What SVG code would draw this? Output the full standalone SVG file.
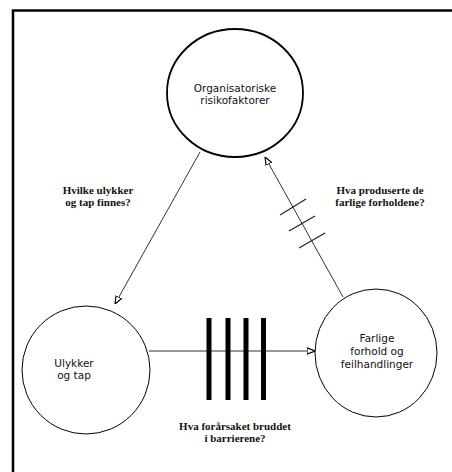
<svg xmlns="http://www.w3.org/2000/svg" width="452" height="472" viewBox="0 0 452 472">
  <style>
    .node { fill: #ffffff; stroke: #000000; }
    .name { font-family: "DejaVu Sans", Verdana, sans-serif; font-size: 10.5px; fill: #111111; text-anchor: middle; }
    .question { font-family: "Liberation Serif", "Times New Roman", serif; font-size: 11px; font-weight: bold; fill: #111111; text-anchor: middle; }
    .link { fill: none; stroke: #333333; stroke-width: 1; }
    .tick { fill: none; stroke: #222222; stroke-width: 1.2; }
    .barrier { fill: #000000; }
  </style>
  <defs>
    <marker id="head" viewBox="0 0 10 10" refX="10" refY="5" markerWidth="8" markerHeight="8" orient="auto" markerUnits="userSpaceOnUse">
      <path d="M0,1 L10,5 L0,9 Z" fill="#ffffff" stroke="#000000" stroke-width="1.5"/>
    </marker>
  </defs>

  <rect width="452" height="472" fill="#ffffff"/>

  <!-- frame: only top and left edges -->
  <path d="M13,472 V10.5 H452" fill="none" stroke="#000000" stroke-width="2.5"/>

  <g id="connectors">
    <!-- organisational factors -> accidents -->
    <line class="link" x1="200" y1="152" x2="115" y2="304" marker-end="url(#head)"/>
    <!-- hazardous conditions -> organisational factors -->
    <line class="link" x1="343" y1="297" x2="265" y2="157" marker-end="url(#head)"/>
    <line class="tick" x1="280" y1="215" x2="306" y2="199"/>
    <line class="tick" x1="289" y1="231" x2="315" y2="216"/>
    <line class="tick" x1="299" y1="248" x2="325" y2="233"/>
    <!-- accidents -> hazardous conditions -->
    <line class="link" x1="149" y1="351" x2="315" y2="351" marker-end="url(#head)"/>
    <!-- barriers -->
    <rect class="barrier" x="206.5" y="318" width="5" height="82"/>
    <rect class="barrier" x="225.5" y="318" width="5" height="82"/>
    <rect class="barrier" x="243.5" y="318" width="5" height="82"/>
    <rect class="barrier" x="261" y="318" width="5" height="82"/>
  </g>

  <g id="org">
    <ellipse class="node" cx="235" cy="93" rx="68" ry="64" stroke-width="1.8"/>
    <text class="name" x="235" y="92">Organisatoriske</text>
    <text class="name" x="235" y="104">risikofaktorer</text>
  </g>

  <g id="ulykker">
    <circle class="node" cx="86" cy="370" r="64" stroke-width="1"/>
    <text class="name" x="74" y="367">Ulykker</text>
    <text class="name" x="74" y="379">og tap</text>
  </g>

  <g id="farlige">
    <ellipse class="node" cx="376" cy="353" rx="61" ry="64" stroke-width="1"/>
    <text class="name" x="377" y="342">Farlige</text>
    <text class="name" x="377" y="355">forhold og</text>
    <text class="name" x="377" y="368">feilhandlinger</text>
  </g>

  <g id="labels">
    <text class="question" x="98" y="194">Hvilke ulykker</text>
    <text class="question" x="98" y="206">og tap finnes?</text>
    <text class="question" x="380" y="194">Hva produserte de</text>
    <text class="question" x="380" y="206">farlige forholdene?</text>
    <text class="question" x="235" y="430">Hva forårsaket bruddet</text>
    <text class="question" x="235" y="442">i barrierene?</text>
  </g>
</svg>
